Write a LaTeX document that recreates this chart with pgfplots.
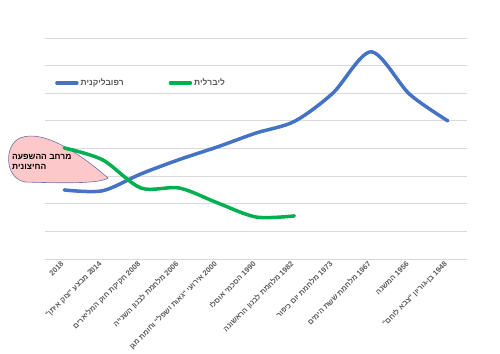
\documentclass[border=0pt]{standalone}
\usepackage{fontspec}
\setmainfont{Liberation Sans}
\newfontfamily\heb[Script=Hebrew]{Liberation Sans}
\usepackage{pgfplots}
\pgfplotsset{compat=1.18}
\TeXXeTstate=1
\definecolor{rblue}{HTML}{4472C4}
\definecolor{lgreen}{HTML}{00B050}
\definecolor{lblgray}{HTML}{595959}
\definecolor{gridgray}{HTML}{D9D9D9}
\definecolor{pinkfill}{RGB}{252,200,202}
\definecolor{pinkedge}{RGB}{110,112,170}
\begin{document}
\begin{tikzpicture}
\useasboundingbox (0,0) rectangle (500bp,354bp);
\begin{axis}[
  at={(45bp,95bp)}, anchor=south west,
  scale only axis, width=422bp, height=221bp,
  xmin=-0.5, xmax=10.5, ymin=0, ymax=8,
  clip=false,
  axis line style={draw=none},
  tick style={draw=none},
  ytick={0,1,...,8}, yticklabels={},
  ymajorgrids, grid style={gridgray, line width=0.8bp},
  xtick={0,1,...,10},
  xticklabels={
    {2018},
    {\beginR\beginL 2014\endL{} מבצע "צוק איתן"\endR},
    {\beginR\beginL 2008\endL{} חקיקת חוק המליארים\endR},
    {\beginR\beginL 2006\endL{} מלחמת לבנון השנייה\endR},
    {\beginR\beginL 2000\endL{} אירועי "גאות ושפל" וחומת מגן\endR},
    {\beginR\beginL 1990\endL{} הסכמי אוסלו\endR},
    {\beginR\beginL 1982\endL{} מלחמת לבנון הראשונה\endR},
    {\beginR\beginL 1973\endL{} מלחמת יום כיפור\endR},
    {\beginR\beginL 1967\endL{} מלחמת ששת הימים\endR},
    {\beginR\beginL 1956\endL{} המשנה\endR},
    {\beginR\beginL 1948\endL{} בן-גוריון "צבא לוחם"\endR}},
  xticklabel style={yshift=-3bp, xshift=-1bp, rotate=45, anchor=east, inner sep=1bp,
    font=\heb\bfseries\fontsize{7.5}{9}\selectfont, text=lblgray},
  legend style={at={(axis cs:-0.24,6.37)}, anchor=west, draw=none, fill=none,
    inner sep=0pt, font=\heb\bfseries\fontsize{8.5}{10}\selectfont, text=lblgray,
    /tikz/every even column/.append style={column sep=43bp}},
  legend columns=2,
  legend image code/.code={\draw[#1, line width=3.5bp, line cap=round] (0bp,0bp) -- (20bp,0bp);},
]
\draw[fill=pinkfill, draw=pinkedge, line width=0.6bp]
  (axis cs:1.142,2.932) .. controls (axis cs:0.543,3.656) and (axis cs:-0.5,4.742) ..
  (axis cs:-1.152,4.380) .. controls (axis cs:-1.569,4.127) and (axis cs:-1.569,2.932) ..
  (axis cs:-1.021,2.787) .. controls (axis cs:-0.109,2.751) and (axis cs:0.934,2.715) ..
  cycle;
\node[anchor=west, align=left, inner sep=0pt, font=\heb\bfseries\fontsize{8.5}{10.5}\selectfont]
  at (axis cs:-1.36,3.51) {\beginR מרחב ההשפעה\endR\\\beginR החיצונית\endR};
\addplot[rblue, line width=3.5bp, smooth, tension=0.5, line cap=round] coordinates {
  (0,2.50) (1,2.47) (2,3.08) (3,3.60) (4,4.06) (5,4.56) (6,4.98) (7,6.00) (8,7.50) (9,5.97) (10,5.00)};
\addlegendentry{\beginR רפובליקנית\endR}
\addplot[lgreen, line width=3.5bp, smooth, tension=0.5, line cap=round] coordinates {
  (0,4.02) (1,3.59) (2,2.57) (3,2.57) (4,2.03) (5,1.52) (6,1.56)};
\addlegendentry{\beginR ליברלית\endR}
\end{axis}
\end{tikzpicture}
\end{document}
